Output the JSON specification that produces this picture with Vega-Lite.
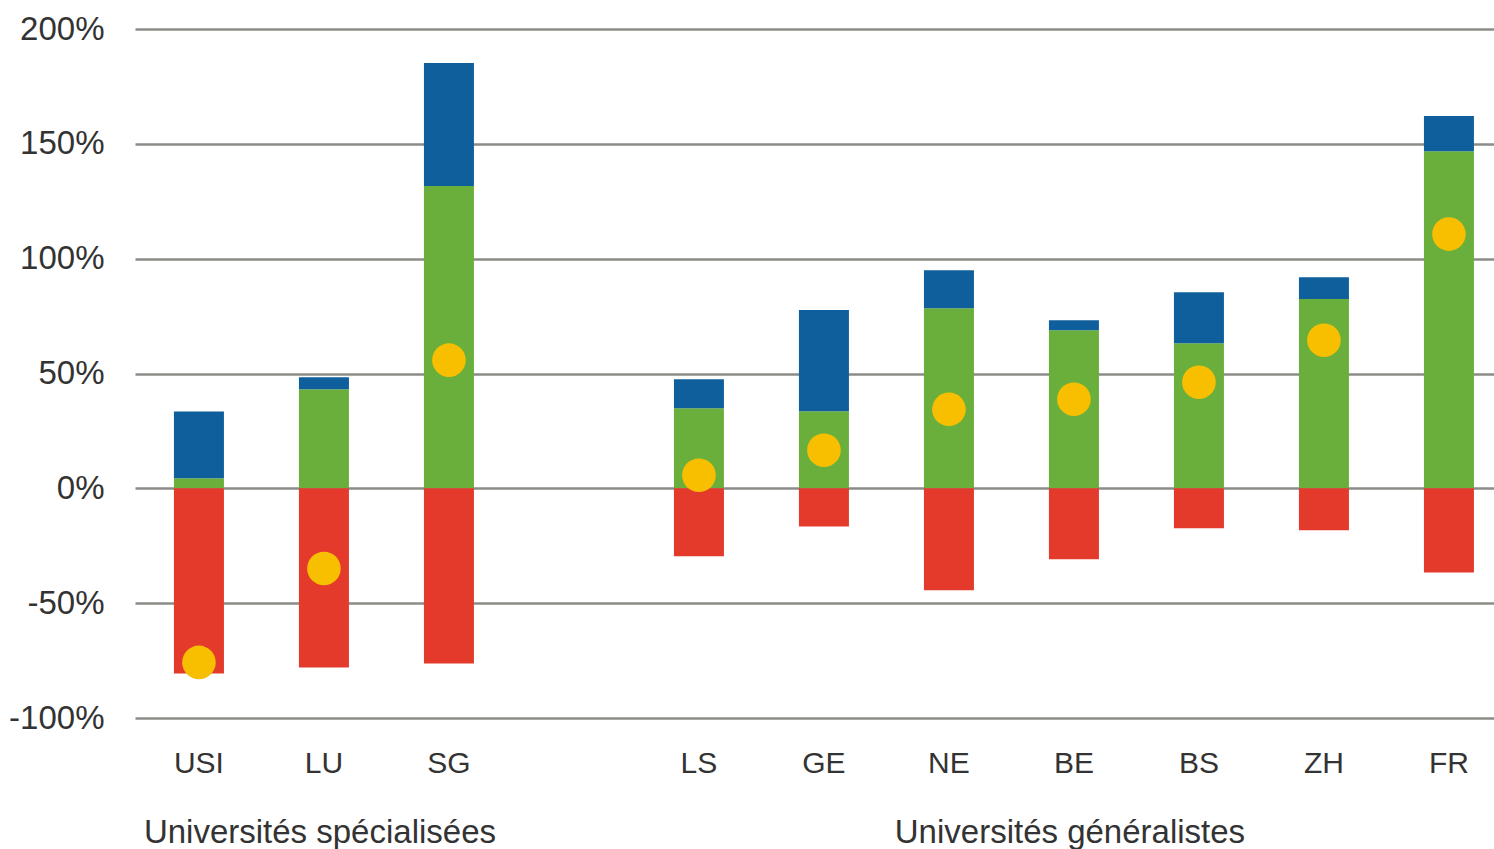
{
  "$schema": "https://vega.github.io/schema/vega-lite/v6.json",
  "width": 1359,
  "height": 689,
  "autosize": {"type": "none"},
  "padding": {"left": 135, "top": 29, "right": 0, "bottom": 131},
  "background": "white",
  "config": {
    "view": {"stroke": null},
    "font": "Liberation Sans",
    "axis": {"labelColor": "#333333", "domain": false, "ticks": false, "tickSize": 0, "title": null, "labelLimit": 0}
  },
  "layer": [
    {
      "data": {"values": [
        {"uni": "USI", "seg": "green", "ord": 1, "value": 4.4},
        {"uni": "USI", "seg": "blue", "ord": 2, "value": 29.1},
        {"uni": "USI", "seg": "red", "ord": 3, "value": -80.6},
        {"uni": "LU", "seg": "green", "ord": 1, "value": 43.1},
        {"uni": "LU", "seg": "blue", "ord": 2, "value": 5.3},
        {"uni": "LU", "seg": "red", "ord": 3, "value": -78.0},
        {"uni": "SG", "seg": "green", "ord": 1, "value": 131.6},
        {"uni": "SG", "seg": "blue", "ord": 2, "value": 53.6},
        {"uni": "SG", "seg": "red", "ord": 3, "value": -76.3},
        {"uni": "LS", "seg": "green", "ord": 1, "value": 34.9},
        {"uni": "LS", "seg": "blue", "ord": 2, "value": 12.6},
        {"uni": "LS", "seg": "red", "ord": 3, "value": -29.6},
        {"uni": "GE", "seg": "green", "ord": 1, "value": 33.6},
        {"uni": "GE", "seg": "blue", "ord": 2, "value": 44.0},
        {"uni": "GE", "seg": "red", "ord": 3, "value": -16.6},
        {"uni": "NE", "seg": "green", "ord": 1, "value": 78.4},
        {"uni": "NE", "seg": "blue", "ord": 2, "value": 16.6},
        {"uni": "NE", "seg": "red", "ord": 3, "value": -44.4},
        {"uni": "BE", "seg": "green", "ord": 1, "value": 68.8},
        {"uni": "BE", "seg": "blue", "ord": 2, "value": 4.4},
        {"uni": "BE", "seg": "red", "ord": 3, "value": -30.9},
        {"uni": "BS", "seg": "green", "ord": 1, "value": 63.2},
        {"uni": "BS", "seg": "blue", "ord": 2, "value": 22.2},
        {"uni": "BS", "seg": "red", "ord": 3, "value": -17.4},
        {"uni": "ZH", "seg": "green", "ord": 1, "value": 82.4},
        {"uni": "ZH", "seg": "blue", "ord": 2, "value": 9.5},
        {"uni": "ZH", "seg": "red", "ord": 3, "value": -18.3},
        {"uni": "FR", "seg": "green", "ord": 1, "value": 146.8},
        {"uni": "FR", "seg": "blue", "ord": 2, "value": 15.3},
        {"uni": "FR", "seg": "red", "ord": 3, "value": -36.6}
      ]},
      "mark": {"type": "bar"},
      "encoding": {
        "x": {
          "field": "uni", "type": "nominal", "sort": null,
          "scale": {"domain": ["USI", "LU", "SG", " ", "LS", "GE", "NE", "BE", "BS", "ZH", "FR"], "paddingInner": 0.6, "paddingOuter": 0.236, "align": 0.66},
          "axis": {"orient": "bottom", "labelAngle": 0, "labelFontSize": 30, "labelPadding": 30, "grid": false, "title": null}
        },
        "y": {
          "field": "value", "type": "quantitative", "stack": "zero",
          "scale": {"domain": [-100, 200], "nice": false, "zero": false},
          "axis": {"values": [-100, -50, 0, 50, 100, 150, 200], "labelExpr": "datum.value + '%'", "labelFontSize": 33, "labelPadding": 31, "grid": true, "gridColor": "#8b8b87", "gridWidth": 2.5, "title": null}
        },
        "color": {
          "field": "seg", "type": "nominal",
          "scale": {"domain": ["green", "blue", "red"], "range": ["#6aaf3c", "#0f5f9c", "#e43a2c"]},
          "legend": null
        },
        "order": {"field": "ord", "type": "quantitative"}
      }
    },
    {
      "data": {"values": [
        {"uni": "USI", "net": -75.8},
        {"uni": "LU", "net": -34.9},
        {"uni": "SG", "net": 55.8},
        {"uni": "LS", "net": 5.7},
        {"uni": "GE", "net": 16.6},
        {"uni": "NE", "net": 34.4},
        {"uni": "BE", "net": 38.8},
        {"uni": "BS", "net": 46.2},
        {"uni": "ZH", "net": 64.5},
        {"uni": "FR", "net": 110.7}
      ]},
      "mark": {"type": "circle", "size": 1130, "opacity": 1, "color": "#f7bf00"},
      "encoding": {
        "x": {
          "field": "uni", "type": "nominal", "sort": null,
          "axis": {"orient": "bottom", "offset": 68, "labelAngle": 0, "labelFontSize": 33, "labelPadding": 30, "labelOffset": -4, "labelLimit": 0, "grid": false, "title": null, "labelExpr": "datum.value == 'LU' ? 'Universités spécialisées' : datum.value == 'BE' ? 'Universités généralistes' : ''"}
        },
        "y": {"field": "net", "type": "quantitative"}
      }
    }
  ],
  "resolve": {"axis": {"x": "independent"}}
}
